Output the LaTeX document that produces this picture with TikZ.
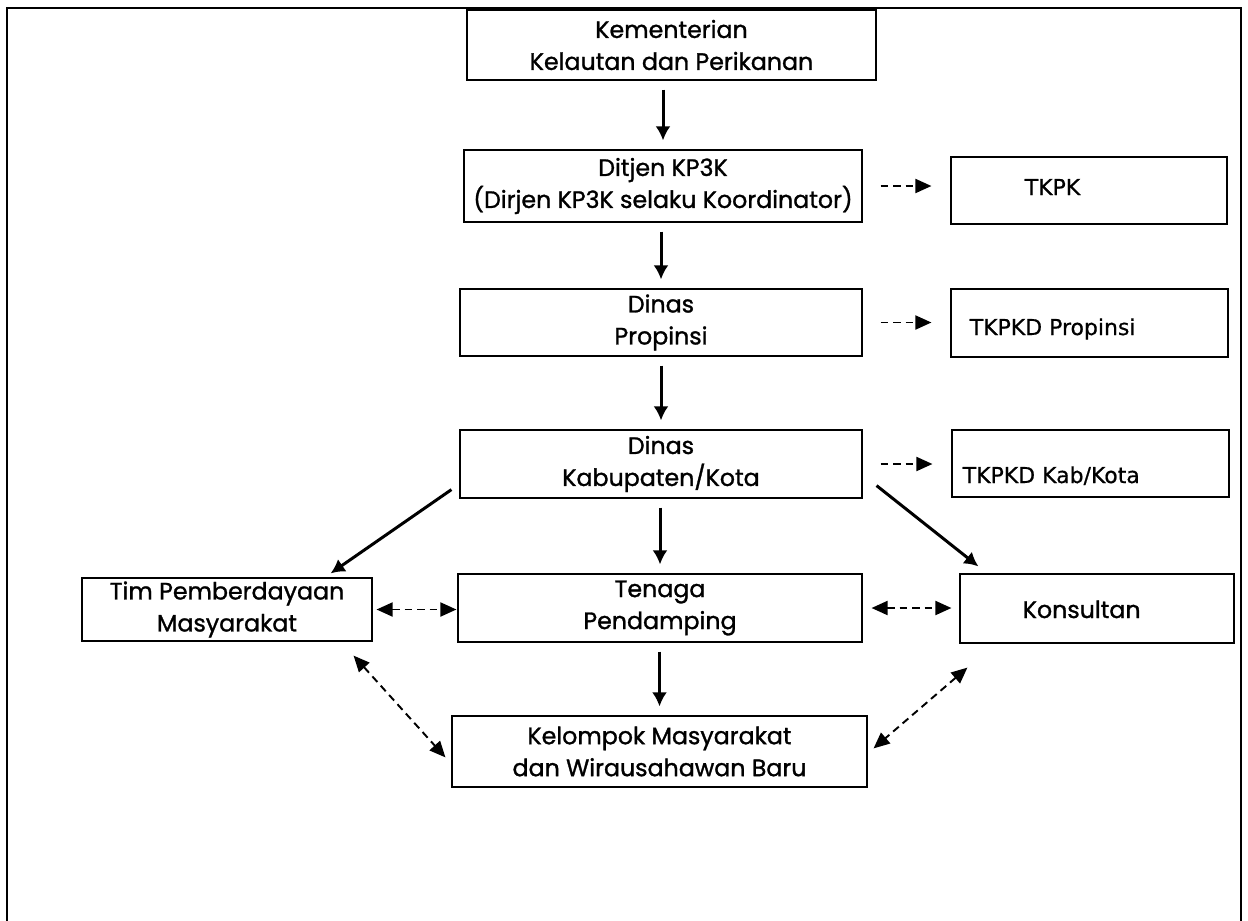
\documentclass[tikz,border=0pt]{standalone}
\usepackage{fontspec}
\setmainfont{Poppins}[UprightFeatures={FakeBold=1.2}]
\newfontfamily\tkfont{DejaVu Sans}[UprightFeatures={FakeBold=0.6}]
\usetikzlibrary{arrows.meta,calc}

\begin{document}
\begin{tikzpicture}[x=0.02cm, y=-0.02cm,
  box/.style={draw, line width=0.7pt, align=center, inner sep=0pt,
    font=\fontsize{13.5}{18.2}\selectfont},
  sidebox/.style={draw, line width=0.7pt, inner sep=0pt},
  sidetext/.style={anchor=base west, inner sep=0pt,
    font=\tkfont\fontsize{12.5}{15}\selectfont},
  flow/.style={-{Latex[length=0.28cm,width=0.3cm]}, line width=1.7pt},
  link/.style={-{Triangle[length=0.32cm,width=0.28cm]}, line width=1.1pt,
    dash pattern=on 0.15cm off 0.1cm},
  both/.style={link, {Triangle[length=0.32cm,width=0.28cm]}-{Triangle[length=0.32cm,width=0.28cm]}}]
\useasboundingbox (0,0) rectangle (1248,920);
% frame, open at the bottom
\draw[line width=1.6pt] (7,940) -- (7,8) -- (1241,8) -- (1241,940);

% main column
\node[box, minimum width=8.18cm, minimum height=1.4cm] (kkp) at (671.5,45) {Kementerian\\Kelautan dan Perikanan};
\node[box, minimum width=7.96cm, minimum height=1.44cm] (ditjen) at (663,186) {Ditjen KP3K\\(Dirjen KP3K selaku Koordinator)};
\node[box, minimum width=8.04cm, minimum height=1.34cm] (dinprop) at (661,322.5) {Dinas\\Propinsi};
\node[box, minimum width=8.04cm, minimum height=1.36cm] (dinkab) at (661,464) {Dinas\\Kabupaten/Kota};
\node[box, minimum width=8.08cm, minimum height=1.36cm] (tenaga) at (660,608) {Tenaga\\Pendamping};
\node[box, minimum width=8.3cm, minimum height=1.42cm] (kelompok) at (659.5,751.5) {Kelompok Masyarakat\\dan Wirausahawan Baru};
\node[box, minimum width=5.8cm, minimum height=1.26cm] (tim) at (227,609.5) {Tim Pemberdayaan\\Masyarakat};

% side boxes
\node[sidebox, minimum width=5.52cm, minimum height=1.34cm] (tkpk) at (1089,190.5) {};
\node[sidetext] (tkpkT) at ($(tkpk.west)+(74,4.5)$) {TKPK};
\node[sidebox, minimum width=5.54cm, minimum height=1.36cm] (tkpdp) at (1089.5,323) {};
\node[sidetext] (tkpdpT) at ($(tkpdp.west)+(19,12)$) {TKPKD Propinsi};
\node[sidebox, minimum width=5.54cm, minimum height=1.34cm] (tkpdk) at (1090.5,463.5) {};
\node[sidetext] (tkpdkT) at ($(tkpdk.west)+(11,19.5)$) {TKPKD Kab/Kota};
\node[sidebox, minimum width=5.48cm, minimum height=1.38cm] (kons) at (1097,608.5) {};
\node[sidetext, font=\fontsize{13.5}{18.2}\selectfont] (konsT) at ($(kons.west)+(63,9.5)$) {Konsultan};

% arrows down the column
\foreach \a/\b in {kkp/ditjen, ditjen/dinprop, dinprop/dinkab, dinkab/tenaga, tenaga/kelompok}
  \draw[flow, shorten <=0.18cm, shorten >=0.18cm] (\b.north |- \a.south) -- (\b.north);

\foreach \a/\b in {ditjen/tkpk, dinprop/tkpdp, dinkab/tkpdk}
  \draw[link, shorten <=0.36cm, shorten >=0.38cm] (\a.east) -- (\a.east -| \b.west);

\draw[flow] ($(dinkab.south west)+(-8,-9)$) -- ($(tim.north east)+(-42,-4)$);
\draw[flow] ($(dinkab.south east)+(14,-13)$) -- ($(kons.north west)+(19,-7)$);

\draw[both, shorten <=0.08cm, shorten >=0.02cm] (tim.east) -- (tim.east -| tenaga.west);
\draw[both, shorten <=0.18cm, shorten >=0.16cm] (tenaga.east) -- (tenaga.east -| kons.west);
\draw[both] ($(tim.south east)+(-19,14)$) -- ($(kelompok.north west)+(-6,42)$);
\draw[both] ($(kons.south west)+(8,24)$) -- ($(kelompok.north east)+(6,33)$);
\end{tikzpicture}
\end{document}
